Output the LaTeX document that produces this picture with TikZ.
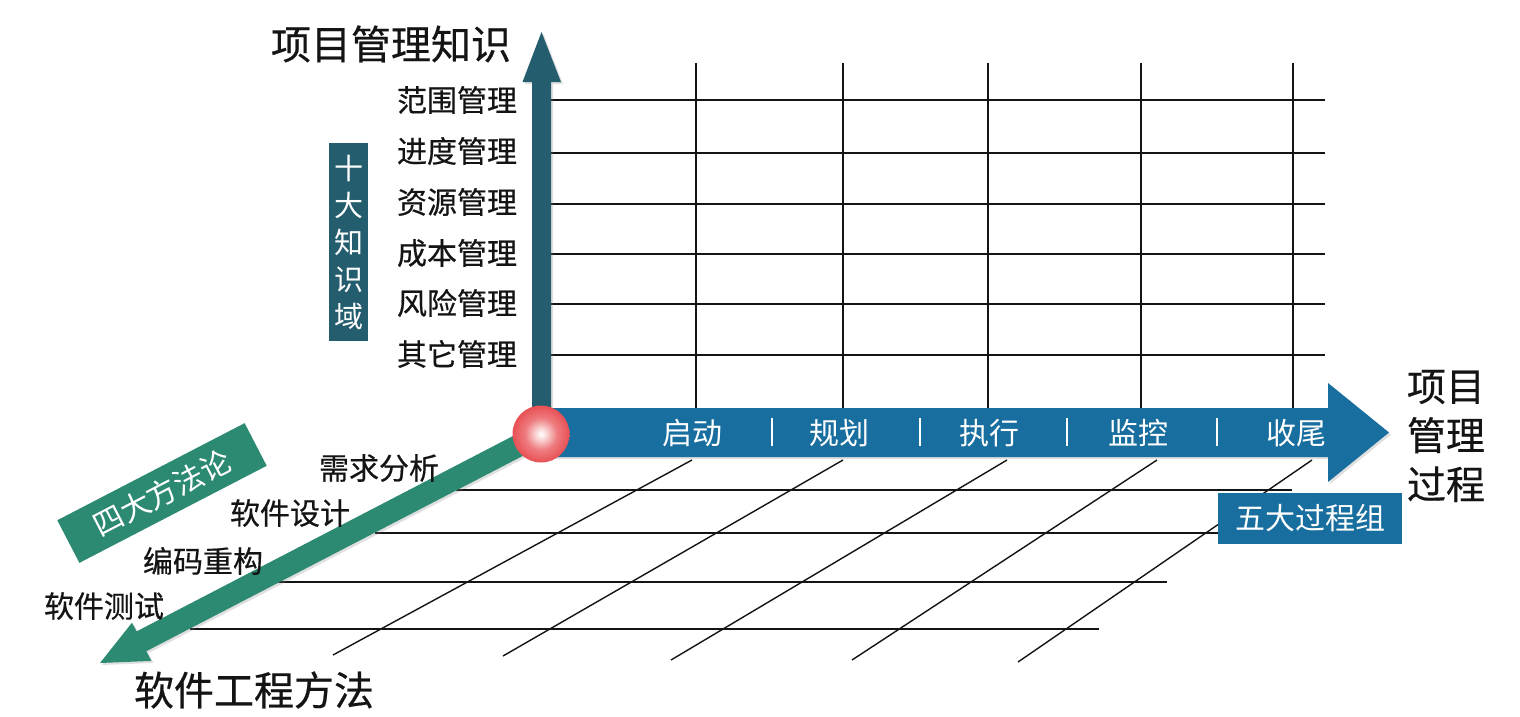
\documentclass[tikz,border=0pt]{standalone}
\usepackage{fontspec}
\setmainfont[FakeBold=0.5]{Noto Sans CJK SC}
\newfontfamily\plainfont{Noto Sans CJK SC}
\usetikzlibrary{shadows}
\definecolor{barblue}{RGB}{24,110,158}
\definecolor{darkteal}{RGB}{36,94,110}
\definecolor{mgreen}{RGB}{44,138,114}
\definecolor{ballred}{RGB}{232,80,84}
\definecolor{inkblack}{RGB}{20,20,20}
\pgfdeclareradialshading{redball}{\pgfpoint{0bp}{0bp}}{color(0bp)=(white); color(5bp)=(white!75!ballred); color(14bp)=(ballred!75!white); color(25bp)=(ballred); color(50bp)=(ballred)}
\begin{document}
\begin{tikzpicture}[x=1pt,y=-1pt,
  grid/.style={line width=1.4pt,inkblack},
  lbl/.style={font=\fontsize{30}{34}\selectfont, text=inkblack, inner sep=0pt},
  big/.style={font=\fontsize{40}{46}\selectfont, text=inkblack, inner sep=0pt},
  barlbl/.style={font=\plainfont\fontsize{30}{34}\selectfont, text=white, inner sep=0pt},
  sepline/.style={white, line width=2pt},
  shad/.style={drop shadow={opacity=0.25,shadow xshift=2pt,shadow yshift=-2pt}}]
\useasboundingbox (0,0) rectangle (1520,717);
\fill[white] (0,0) rectangle (1520,717);

% upper grid
\foreach \y in {100,153,204,254,304,355} \draw[grid] (551,\y) -- (1325,\y);
\foreach \x in {696,843,988,1141,1293} \draw[grid] (\x,63) -- (\x,408);

% lower grid
\draw[grid] (456,490) -- (1292,490);
\draw[grid] (375,533) -- (1218,533);
\draw[grid] (278,582) -- (1167,582);
\draw[grid] (190,629) -- (1099,629);
\draw[grid] (692,460) -- (333,655);
\draw[grid] (843,460) -- (503,656);
\draw[grid] (1007,460) -- (671,660);
\draw[grid] (1157,460) -- (852,660);
\draw[grid] (1312,460) -- (1018,662);

% axes
\fill[mgreen, shad] (546.1,443.8) -- (146.3,651.2) -- (151.4,660.9) -- (100,663) -- (132,622.7) -- (136.6,631.4) -- (535.9,424.1) -- cycle;
\fill[darkteal, shad] (532,434) -- (532,82) -- (522.5,82) -- (541.5,32) -- (561,82) -- (551,82) -- (551,434) -- cycle;
\fill[barblue, shad] (541,408) -- (1328,408) -- (1328,383) -- (1389,432.5) -- (1328,482) -- (1328,457) -- (541,457) -- cycle;
\node[circle, minimum size=57pt, inner sep=0pt, shading=redball] (ball) at (541,434) {};

% titles
\node[big] (ytitle) at (391,44) {项目管理知识};
\node[big, font=\fontsize{39}{49}\selectfont, align=center] (xtitle) at (1446,436) {项目\\管理\\过程};
\node[big] (ztitle) at (254,690) {软件工程方法};

% knowledge areas
\node[lbl] (k1) at (457,100) {范围管理};
\node[lbl] (k2) at (457,151) {进度管理};
\node[lbl] (k3) at (457,202) {资源管理};
\node[lbl] (k4) at (457,253) {成本管理};
\node[lbl] (k5) at (457,303) {风险管理};
\node[lbl] (k6) at (457,354) {其它管理};
\node[fill=darkteal, text=white, font=\plainfont\fontsize{29}{37}\selectfont, align=center, minimum width=39pt, minimum height=198pt, inner sep=0pt] (kbox) at (348.5,242) {十\\大\\知\\识\\域};

% process groups
\node[barlbl] (p1) at (692,433) {启动};
\node[barlbl] (p2) at (839,433) {规划};
\node[barlbl] (p3) at (989,433) {执行};
\node[barlbl] (p4) at (1138,433) {监控};
\node[barlbl] (p5) at (1296,433) {收尾};
\foreach \x in {772,920,1067,1217} \draw[sepline] (\x,418) -- (\x,446);
\node[fill=barblue, text=white, font=\plainfont\fontsize{30}{34}\selectfont, minimum width=184pt, minimum height=51pt, inner sep=0pt] (pbox) at (1310,518.5) {五大过程组};

% methods
\node[lbl] (m1) at (379,468) {需求分析};
\node[lbl] (m2) at (290,513) {软件设计};
\node[lbl] (m3) at (203,561) {编码重构};
\node[lbl] (m4) at (104,606) {软件测试};
\node[fill=mgreen, text=white, rotate=27.4, minimum width=211pt, minimum height=48pt, font=\plainfont\fontsize{30}{34}\selectfont, inner sep=0pt] (mbox) at (162,493) {四大方法论};
\end{tikzpicture}
\end{document}
